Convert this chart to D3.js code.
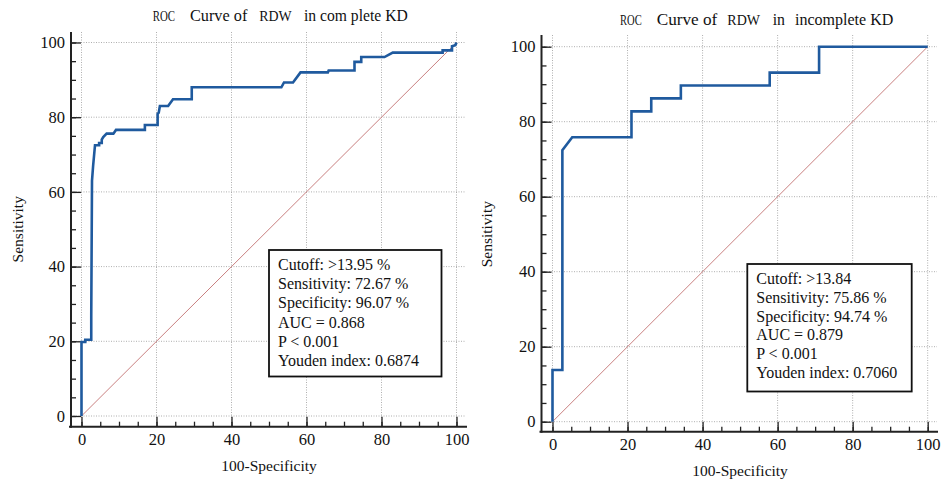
<!DOCTYPE html>
<html>
<head>
<meta charset="utf-8">
<script src="https://cdn.jsdelivr.net/npm/d3@7"></script>
<style>
  body { margin: 0; background: #fff; }
  svg text { font-family: "Liberation Serif", "Times New Roman", serif; fill: #111; }
</style>
</head>
<body>
<svg id="canvas"></svg>
<script>
//--chart data
const majorTicks = [0, 20, 40, 60, 80, 100];
const minorTicks = d3.range(0, 101, 5);

const completeFpr = [0, 0, 1.0, 1.0, 2.6, 2.6, 2.8, 3.1, 3.6, 4.7, 4.7, 5.4, 5.4, 5.8, 6.7, 8.5, 9.2, 16.9, 16.9, 20.3, 20.3, 20.6, 20.9, 23.1, 24.4, 29.4, 29.4, 53.3, 54.0, 56.4, 58.4, 65.7, 65.9, 72.8, 72.8, 74.6, 74.6, 80.8, 83.0, 96.3, 96.3, 98.8, 98.8, 99.7, 100];
const completeTpr = [0, 19.8, 19.8, 20.4, 20.4, 27, 63, 67, 72.5, 72.5, 73.1, 73.1, 74.0, 74.7, 75.6, 75.6, 76.6, 76.6, 77.9, 77.9, 80.9, 81.2, 83.0, 83.0, 84.8, 84.8, 88.0, 88.0, 89.3, 89.3, 92.0, 92.0, 92.5, 92.5, 94.8, 94.8, 96.1, 96.1, 97.3, 97.3, 97.9, 97.9, 99.0, 99.3, 100];

const incompleteFpr = [0, 0, 2.63, 2.63, 5.26, 21.05, 21.05, 26.32, 26.32, 34.21, 34.21, 57.89, 57.89, 71.05, 71.05, 100];
const incompleteTpr = [0, 13.79, 13.79, 72.41, 75.86, 75.86, 82.76, 82.76, 86.21, 86.21, 89.66, 89.66, 93.10, 93.10, 100, 100];

const completeStats = ["Cutoff: >13.95 %", "Sensitivity: 72.67 %", "Specificity: 96.07 %", "AUC = 0.868", "P < 0.001", "Youden index: 0.6874"];
const incompleteStats = ["Cutoff: >13.84", "Sensitivity: 75.86 %", "Specificity: 94.74 %", "AUC = 0.879", "P < 0.001", "Youden index: 0.7060"];

const completeTitle = ["ROC", "Curve of", "RDW", "in com plete KD"];
const incompleteTitle = ["ROC", "Curve of", "RDW", "in", "incomplete KD"];
//--

let width = 945;
let height = 482;

let canvas = d3.select("#canvas")
canvas.attr("width", width)
canvas.attr("height", height)

//--draws one ROC panel
let drawRoc = (cfg) => {
    let x = d3.scaleLinear().domain([0, 100]).range([cfg.x0, cfg.x1]);
    let y = d3.scaleLinear().domain([0, 100]).range([cfg.y0, cfg.y1]);
    let g = canvas.append("g");

    // dotted grid
    g.selectAll(".vgrid").data(majorTicks).enter().append("line")
        .attr("x1", d => x(d)).attr("x2", d => x(d))
        .attr("y1", cfg.top).attr("y2", cfg.axisY)
        .attr("stroke", "#9a9a9a").attr("stroke-width", 0.8)
        .attr("stroke-dasharray", "1,1.5");
    g.selectAll(".hgrid").data(majorTicks).enter().append("line")
        .attr("y1", d => y(d)).attr("y2", d => y(d))
        .attr("x1", cfg.axisX).attr("x2", cfg.right)
        .attr("stroke", "#9a9a9a").attr("stroke-width", 0.8)
        .attr("stroke-dasharray", "1,1.5");

    // axes: minor and major ticks in their own groups, both pointing inward
    g.append("g").attr("transform", `translate(0,${cfg.axisY})`)
        .call(d3.axisBottom(x).tickValues(minorTicks).tickSizeInner(-5).tickSizeOuter(0).tickFormat(""));
    let xAxis = g.append("g").attr("transform", `translate(0,${cfg.axisY})`)
        .call(d3.axisBottom(x).tickValues(majorTicks).tickSizeInner(-10).tickSizeOuter(0).tickPadding(7));
    xAxis.append("line").attr("x1", cfg.axisX - 2).attr("x2", cfg.right + 1)
        .attr("stroke", "#222").attr("stroke-width", 2);

    g.append("g").attr("transform", `translate(${cfg.axisX},0)`)
        .call(d3.axisLeft(y).tickValues(minorTicks).tickSizeInner(-5).tickSizeOuter(0).tickFormat(""));
    let yAxis = g.append("g").attr("transform", `translate(${cfg.axisX},0)`)
        .call(d3.axisLeft(y).tickValues(majorTicks).tickSizeInner(-10).tickSizeOuter(0).tickPadding(6));
    yAxis.append("line").attr("y1", cfg.top).attr("y2", cfg.axisY + 1)
        .attr("stroke", "#222").attr("stroke-width", 2);

    g.selectAll(".domain").remove();
    g.selectAll(".tick line").attr("stroke", "#222").attr("stroke-width", 1.3);
    g.selectAll(".tick text")
        .style("font-size", "16.5px")
        .style("font-family", "'Liberation Serif', serif")
        .attr("fill", "#111");

    // diagonal reference
    g.append("line")
        .attr("x1", x(0)).attr("y1", y(0)).attr("x2", x(100)).attr("y2", y(100))
        .attr("stroke", "#c98080").attr("stroke-width", 1);

    // ROC curve
    let pts = cfg.fpr.map((d, i) => [d, cfg.tpr[i]]);
    g.append("path")
        .datum(pts)
        .attr("d", d3.line().x(d => x(d[0])).y(d => y(d[1])))
        .attr("fill", "none")
        .attr("stroke", "#1f5a9e")
        .attr("stroke-width", 2.6)
        .attr("stroke-linejoin", "miter");

    // stats box
    g.append("rect")
        .attr("x", cfg.box[0]).attr("y", cfg.box[1])
        .attr("width", cfg.box[2]).attr("height", cfg.box[3])
        .attr("fill", "#fff").attr("stroke", "#111").attr("stroke-width", 1.8);
    g.selectAll(".stat").data(cfg.stats).enter().append("text")
        .attr("x", cfg.box[0] + 9)
        .attr("y", (d, i) => cfg.box[1] + 20 + i * cfg.lineGap)
        .attr("font-size", 16)
        .text(d => d);

    // title, each word group fitted to where it sits in the original
    cfg.title.forEach((s, i) => {
        let mono = (s == "ROC" || s == "RDW");
        g.append("text")
            .attr("x", cfg.titleX[i][0])
            .attr("y", cfg.titleY)
            .attr("font-size", mono ? 14.5 : 16)
            .attr("textLength", cfg.titleX[i][1] - cfg.titleX[i][0])
            .attr("lengthAdjust", "spacingAndGlyphs")
            .text(s);
    });

    // axis titles
    g.append("text")
        .attr("x", (cfg.x0 + cfg.x1) / 2).attr("y", cfg.axisY + 44)
        .attr("text-anchor", "middle").attr("font-size", 15.5)
        .text("100-Specificity");
    g.append("text")
        .attr("transform", `translate(${cfg.ylabX},${(cfg.y0 + cfg.y1) / 2}) rotate(-90)`)
        .attr("text-anchor", "middle").attr("font-size", 15.5)
        .text("Sensitivity");
}
//--

drawRoc({
    x0: 81.5, x1: 456.5, y0: 416, y1: 42.5,
    axisX: 71, axisY: 426.7, top: 32, right: 466,
    fpr: completeFpr, tpr: completeTpr, stats: completeStats,
    box: [269, 250, 172.5, 126.5], lineGap: 19.2,
    title: completeTitle,
    titleX: [[152.7, 175], [190, 247.3], [259.3, 291.7], [304, 407.7]],
    titleY: 21,
    ylabX: 23
});

drawRoc({
    x0: 552.5, x1: 927.7, y0: 421.7, y1: 46.7,
    axisX: 541.5, axisY: 431.7, top: 35, right: 937,
    fpr: incompleteFpr, tpr: incompleteTpr, stats: incompleteStats,
    box: [747.3, 264, 164.4, 127.5], lineGap: 18.8,
    title: incompleteTitle,
    titleX: [[620, 641.7], [656.7, 717.3], [727.3, 760], [772.7, 785], [795, 893.3]],
    titleY: 24.7,
    ylabX: 492
});
</script>
</body>
</html>
